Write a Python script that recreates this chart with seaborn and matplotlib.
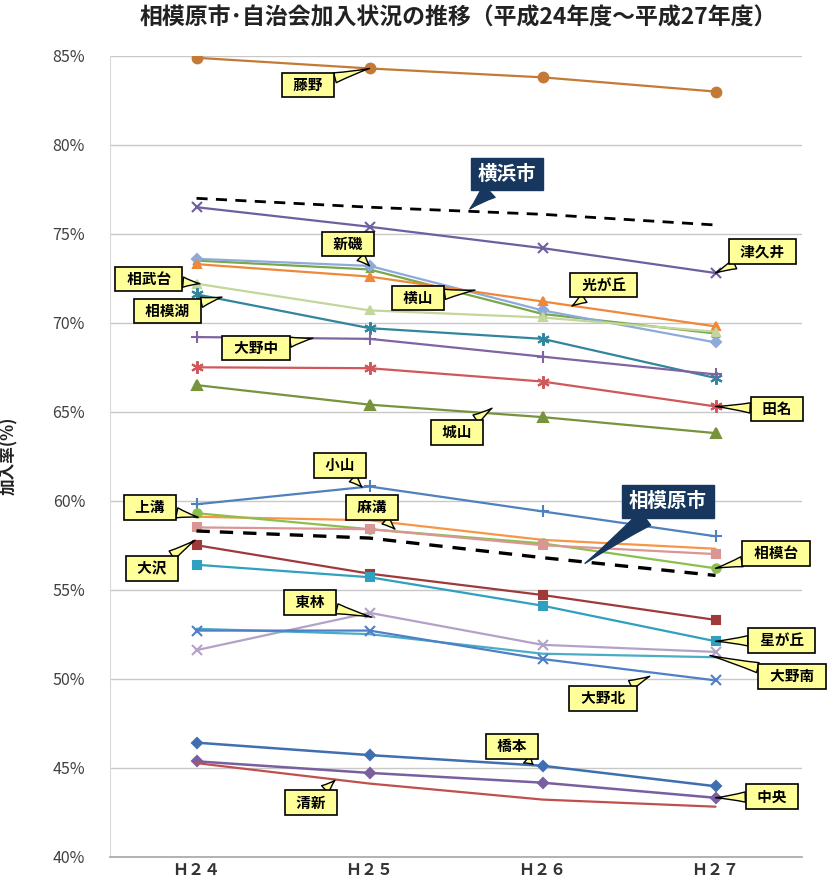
import matplotlib
matplotlib.use("Agg")
import matplotlib.pyplot as plt
import seaborn as sns
import numpy as np

sns.set_style("white")
plt.rcParams['font.family'] = ['Noto Sans CJK JP', 'DejaVu Sans']

# ---- data ----
years = ["Ｈ２４", "Ｈ２５", "Ｈ２６", "Ｈ２７"]
fujino    = [84.9, 84.3, 83.8, 83.0]
yokohama  = [77.0, 76.5, 76.1, 75.5]
tsukui    = [76.5, 75.4, 74.2, 72.8]
araiso    = [73.6, 73.2, 70.7, 68.9]
yokoyama  = [73.5, 73.0, 70.5, 69.4]
hikarigaoka = [73.3, 72.6, 71.2, 69.8]
sobudai   = [72.2, 70.7, 70.3, 69.5]
sagamiko  = [71.6, 69.7, 69.1, 66.9]
ononaka   = [69.2, 69.1, 68.1, 67.1]
tana      = [67.5, 67.45, 66.7, 65.3]
shiroyama = [66.5, 65.4, 64.7, 63.8]
koyama    = [59.8, 60.8, 59.4, 58.0]
kamimizo  = [59.1, 58.9, 57.8, 57.3]
sagamidai = [59.3, 58.4, 57.6, 56.2]
asamizo   = [58.5, 58.4, 57.5, 57.0]
sagamihara = [58.3, 57.9, 56.8, 55.8]
osawa     = [57.5, 55.9, 54.7, 53.3]
hoshigaoka = [56.4, 55.7, 54.1, 52.1]
torin     = [51.6, 53.7, 51.9, 51.5]
onokita   = [52.7, 52.7, 51.1, 49.9]
onominami = [52.8, 52.5, 51.4, 51.2]
hashimoto = [46.4, 45.7, 45.1, 43.95]
chuo      = [45.35, 44.7, 44.15, 43.3]
seishin   = [45.25, 44.1, 43.2, 42.8]

AST = (6, 2, 0)
series = [
    # name, values, color, marker, ms, lw, ls
    ("藤野", fujino, "#C47A36", "o", 7, 1.6, "-"),
    ("横浜市", yokohama, "black", "", 0, 2.0, (0, (4, 3))),
    ("津久井", tsukui, "#6F5F9E", "x", 7, 1.6, "-"),
    ("横山", yokoyama, "#77A84A", "^", 5, 1.6, "-"),
    ("新磯", araiso, "#8EAADB", "D", 5, 1.6, "-"),
    ("光が丘", hikarigaoka, "#F0883A", "^", 6, 1.6, "-"),
    ("相武台", sobudai, "#C3D69B", "^", 6, 1.6, "-"),
    ("相模湖", sagamiko, "#31859C", AST, 9, 1.6, "-"),
    ("大野中", ononaka, "#8064A2", "+", 8, 1.6, "-"),
    ("田名", tana, "#D0575A", AST, 9, 1.6, "-"),
    ("城山", shiroyama, "#77933C", "^", 7, 1.6, "-"),
    ("小山", koyama, "#4F81BD", "+", 8, 1.6, "-"),
    ("上溝", kamimizo, "#F79646", "", 0, 1.6, "-"),
    ("相模台", sagamidai, "#8DBF4F", "o", 6, 1.6, "-"),
    ("麻溝", asamizo, "#D99694", "s", 6, 1.6, "-"),
    ("相模原市", sagamihara, "black", "", 0, 2.4, (0, (4, 3))),
    ("大沢", osawa, "#A0393A", "s", 6, 1.6, "-"),
    ("星が丘", hoshigaoka, "#2FA0C0", "s", 6, 1.6, "-"),
    ("東林", torin, "#B3A2C7", "x", 7, 1.6, "-"),
    ("大野南", onominami, "#4BACC6", "", 0, 1.6, "-"),
    ("大野北", onokita, "#4F7FC6", "x", 7, 1.6, "-"),
    ("橋本", hashimoto, "#3F6FB0", "D", 5, 1.8, "-"),
    ("中央", chuo, "#7A5FA0", "D", 5, 1.8, "-"),
    ("清新", seishin, "#C0504D", "", 0, 1.6, "-"),
]

fig = plt.figure(figsize=(8.31, 8.83), dpi=100)
ax = fig.add_axes([110 / 831, 1 - 856.5 / 883, 692 / 831, 800.5 / 883])

xs = np.arange(len(years))
for name, vals, col, mk, ms, lw, ls in series:
    kw = dict(color=col, linewidth=lw, linestyle=ls, ax=ax)
    if mk != "":
        kw.update(marker=mk, markersize=ms, markeredgecolor=col,
                  markerfacecolor=col, markeredgewidth=1.5)
    sns.lineplot(x=xs, y=vals, **kw)

ax.set_xlim(-0.5, 3.5)
ax.set_ylim(40, 85)
ax.set_yticks(np.arange(40, 86, 5))
ax.set_yticklabels([f"{v}%" for v in range(40, 86, 5)])
ax.set_xticks(xs)
ax.set_xticklabels(years, fontsize=11.5, fontweight="bold", color="#333333")
ax.tick_params(axis="y", length=0, pad=18, labelsize=11.5, labelcolor="#404040")
ax.tick_params(axis="x", length=0, pad=4)
ax.grid(axis="y", color="#C8C8C8", linewidth=1)
ax.set_axisbelow(True)
for s in ["top", "right"]:
    ax.spines[s].set_visible(False)
ax.spines["left"].set_color("#D9D9D9")
ax.spines["bottom"].set_color("#A6A6A6")
ax.spines["bottom"].set_linewidth(1.2)

ax.set_ylabel("加入率(%)", fontsize=12, fontweight="bold", color="#222222")
ax.yaxis.set_label_coords(-0.133, 0.5)

fig.text(458 / 831, 1 - 18 / 883,
         "相模原市･自治会加入状況の推移（平成24年度～平成27年度）",
         ha="center", va="center", fontsize=16.5, fontweight="bold", color="#222222")

# ---- callout labels: (text, label position, target) ----
callouts = [
    ("藤野", (0.645, 83.37), (1.0, fujino[1])),
    ("津久井", (3.27, 74.03), (3.0, tsukui[3])),
    ("光が丘", (2.355, 72.12), (2.17, 70.94)),
    ("新磯", (0.876, 74.43), (1.0, araiso[1])),
    ("横山", (1.28, 71.39), (1.61, 71.84)),
    ("相武台", (-0.275, 72.46), (0.02, 72.2)),
    ("相模湖", (-0.17, 70.66), (0.147, 71.45)),
    ("大野中", (0.344, 68.58), (0.673, 69.14)),
    ("城山", (1.506, 63.85), (1.708, 65.2)),
    ("田名", (3.355, 65.15), (3.0, tana[3])),
    ("小山", (0.829, 62.0), (0.957, 60.76)),
    ("上溝", (-0.269, 59.63), (0.01, 59.07)),
    ("麻溝", (1.014, 59.63), (1.147, 58.4)),
    ("大沢", (-0.257, 56.2), (-0.008, 57.78)),
    ("東林", (0.656, 54.29), (1.014, 53.45)),
    ("相模台", (3.35, 57.05), (3.0, sagamidai[3])),
    ("星が丘", (3.384, 52.15), (3.0, hoshigaoka[3])),
    ("大野南", (3.442, 50.13), (2.968, 51.3)),
    ("大野北", (2.35, 48.9), (2.62, 50.13)),
    ("橋本", (1.824, 46.2), (1.945, 45.18)),
    ("清新", (0.662, 43.04), (0.80, 44.28)),
    ("中央", (3.327, 43.38), (3.0, chuo[3])),
]
for txt, pos, tgt in callouts:
    ax.annotate("\u2002" + txt + "\u2002", xy=tgt, xytext=pos, ha="center", va="center",
                fontsize=10.5, fontweight="bold", color="black", zorder=10,
                bbox=dict(boxstyle="square,pad=0.3", fc="#FFFF99", ec="black", lw=1.2),
                arrowprops=dict(arrowstyle="wedge,tail_width=0.7,shrink_factor=0.4",
                                fc="#FFFF99", ec="black", lw=1.0, shrinkA=0, shrinkB=0))

navy = [
    ("横浜市", (1.795, 78.36), (1.58, 76.4)),
    ("相模原市", (2.725, 59.97), (2.246, 56.48)),
]
for txt, pos, tgt in navy:
    ax.annotate(txt, xy=tgt, xytext=pos, ha="center", va="center",
                fontsize=14, fontweight="bold", color="white", zorder=11,
                bbox=dict(boxstyle="square,pad=0.35", fc="#17375E", ec="#17375E"),
                arrowprops=dict(arrowstyle="wedge,tail_width=0.9,shrink_factor=0.4",
                                fc="#17375E", ec="#17375E", shrinkA=0, shrinkB=0))

fig.savefig("out.png", dpi=100)
